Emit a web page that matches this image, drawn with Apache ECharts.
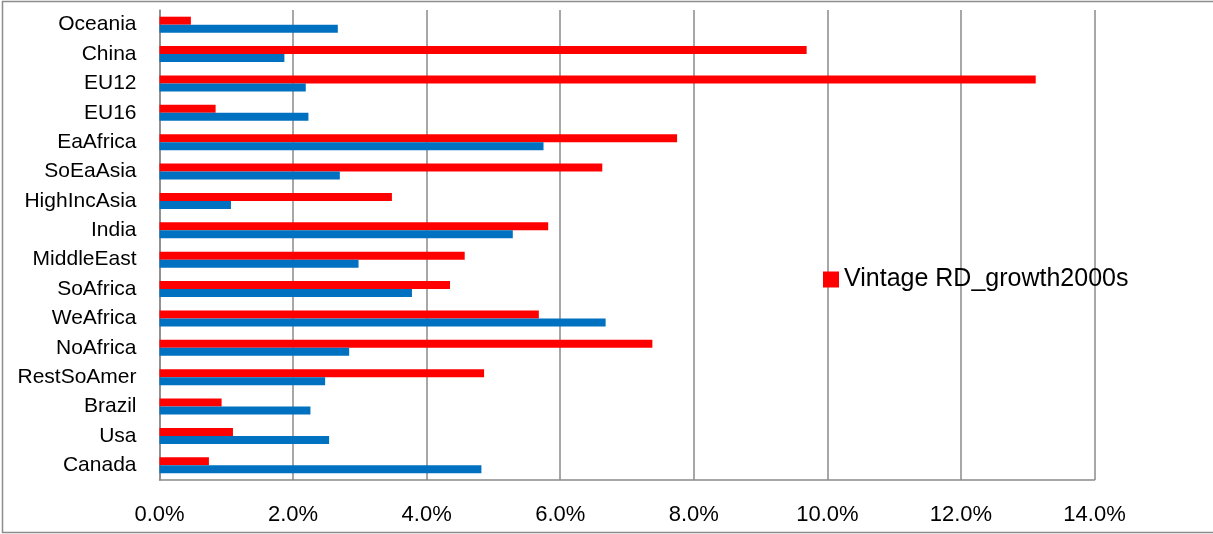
<!DOCTYPE html>
<html>
<head>
<meta charset="utf-8">
<style>
  html, body { margin: 0; padding: 0; background: #ffffff; }
  #chart { width: 1213px; height: 534px; }
</style>
<script src="https://cdn.jsdelivr.net/npm/echarts@6/dist/echarts.min.js"></script>
</head>
<body>
<div id="chart"></div>
<script>
// Regions, listed bottom to top as the category axis draws them
const regions = ['Canada', 'Usa', 'Brazil', 'RestSoAmer', 'NoAfrica', 'WeAfrica', 'SoAfrica',
  'MiddleEast', 'India', 'HighIncAsia', 'SoEaAsia', 'EaAfrica', 'EU16', 'EU12', 'China', 'Oceania'];

// Growth rates in percent
const vintageGrowth2000s = [0.74, 1.10, 0.93, 4.86, 7.38, 5.68, 4.35,
  4.57, 5.82, 3.48, 6.63, 7.75, 0.84, 13.12, 9.69, 0.47];
const comparisonGrowth = [4.82, 2.54, 2.26, 2.48, 2.84, 6.68, 3.78,
  2.98, 5.29, 1.07, 2.70, 5.75, 2.23, 2.19, 1.87, 2.67];

// Value axis ticks (percent)
const axisMin = 0, axisMax = 14, axisStep = 2;

const FONT = "'Liberation Sans', Arial, sans-serif";
const GRID_GRAY = '#8a8a8a';

const chart = echarts.init(document.getElementById('chart'), null, { renderer: 'canvas' });

chart.setOption({
  animation: false,
  backgroundColor: '#ffffff',
  textStyle: { fontFamily: FONT, color: '#000000' },
  graphic: [{
    type: 'rect',
    shape: { x: 2.5, y: 1.5, width: 1220, height: 531 },
    style: { fill: 'none', stroke: '#8c8c8c', lineWidth: 1.5 },
    silent: true
  }],
  legend: {
    data: ['Vintage RD_growth2000s'],
    left: 823,
    top: 267,
    padding: 0,
    itemWidth: 16,
    itemHeight: 16,
    itemGap: 6,
    icon: 'rect',
    textStyle: { fontFamily: FONT, fontSize: 25, color: '#000000' }
  },
  grid: { left: 159.5, top: 10, width: 935, height: 470, containLabel: false },
  xAxis: {
    type: 'value',
    min: axisMin,
    max: axisMax,
    interval: axisStep,
    axisLine: { show: true, lineStyle: { color: GRID_GRAY, width: 1.5 } },
    axisTick: { show: false },
    splitLine: { show: true, lineStyle: { color: GRID_GRAY, width: 1.5 } },
    axisLabel: {
      margin: 24,
      fontFamily: FONT,
      fontSize: 22,
      color: '#000000',
      formatter: v => v.toFixed(1) + '%'
    }
  },
  yAxis: {
    type: 'category',
    data: regions,
    axisLine: { show: true, lineStyle: { color: GRID_GRAY, width: 1.5 } },
    axisTick: { show: false },
    splitLine: { show: false },
    axisLabel: { margin: 23, fontFamily: FONT, fontSize: 21, color: '#000000' }
  },
  series: [
    {
      name: 'Vintage RD_growth2000s',
      type: 'bar',
      data: vintageGrowth2000s,
      barWidth: 8,
      barGap: '0%',
      itemStyle: { color: '#ff0000' }
    },
    {
      name: 'Comparison',
      type: 'bar',
      data: comparisonGrowth,
      barWidth: 8,
      barGap: '0%',
      itemStyle: { color: '#0070c0' }
    }
  ]
});
</script>
</body>
</html>
